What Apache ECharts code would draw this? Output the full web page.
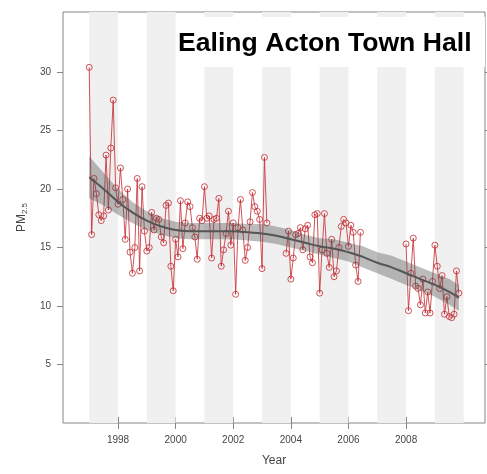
<!DOCTYPE html>
<html>
<head>
<meta charset="utf-8">
<title>Ealing Acton Town Hall PM2.5</title>
<script src="https://cdn.jsdelivr.net/npm/echarts@6/dist/echarts.min.js"></script>
<style>
  html, body { margin: 0; padding: 0; background: #fff; }
  #chart { width: 487px; height: 474px; }
</style>
</head>
<body>
<div id="chart"></div>
<script>
// Monthly mean PM2.5 (Jan..Dec); null = no data that month
const years = [1997, 1998, 1999, 2000, 2001, 2002, 2003, 2004, 2005, 2006, 2007, 2008, 2009];
const pm1997 = [30.4, 16.1, 20.9, 19.6, 17.8, 17.3, 17.7, 22.9, 18.2, 23.5, 27.6, 20.1];
const pm1998 = [18.7, 21.8, 19.1, 15.7, 20.0, 14.6, 12.8, 15.0, 20.9, 13.0, 20.2, 16.4];
const pm1999 = [14.7, 15.0, 18.0, 16.5, 17.5, 17.4, 15.9, 15.4, 18.6, 18.8, 13.4, 11.3];
const pm2000 = [15.7, 14.2, 19.0, 14.9, 17.1, 18.9, 18.5, 16.7, 15.9, 14.0, 17.5, 17.3];
const pm2001 = [20.2, 17.5, 17.7, 14.1, 17.4, 17.5, 19.2, 13.4, 14.8, 16.2, 18.1, 15.2];
const pm2002 = [17.1, 11.0, 16.7, 19.1, 16.5, 13.9, 15.0, 17.2, 19.7, 18.5, 18.1, 17.4];
const pm2003 = [13.2, 22.7, 17.1, null, null, null, null, null, null, null, 14.5, 16.4];
const pm2004 = [12.3, 14.1, 16.1, 16.2, 16.7, 14.8, 16.6, 16.9, 14.2, 13.7, 17.8, 17.9];
const pm2005 = [11.1, 14.8, 17.9, 14.5, 13.3, 15.7, 12.5, 13.0, 15.0, 16.8, 17.4, 17.1];
const pm2006 = [15.1, 16.9, 16.3, 13.5, 12.1, 16.3, null, null, null, null, null, null];
const pm2007 = [null, null, null, null, null, null, null, null, null, null, null, null];
const pm2008 = [15.3, 9.6, 12.8, 15.8, 11.7, 11.5, 10.1, 12.3, 9.4, 11.2, 9.4, 12.1];
const pm2009 = [15.2, 13.4, 11.5, 12.6, 9.3, 10.8, 9.1, 9.0, 9.3, 13.0, 11.1, null];
const yearRows = [pm1997, pm1998, pm1999, pm2000, pm2001, pm2002, pm2003,
                  pm2004, pm2005, pm2006, pm2007, pm2008, pm2009];

// Smooth trend with its confidence band
const fitYears = [1997.0, 1997.5, 1998.0, 1998.5, 1999.0, 1999.5, 2000.0, 2000.5, 2001.0,
                  2001.5, 2002.0, 2002.5, 2003.0, 2003.5, 2004.0, 2004.5, 2005.0, 2005.5,
                  2006.0, 2006.5, 2007.0, 2007.5, 2008.0, 2008.5, 2009.0, 2009.5, 2009.83];
const fitMid  = [21.0, 20.0, 18.9, 18.0, 17.3, 16.8, 16.5, 16.4, 16.4, 16.4, 16.4, 16.3, 16.2,
                 16.0, 15.7, 15.4, 15.1, 14.9, 14.6, 14.2, 13.7, 13.3, 12.8, 12.3, 11.8, 11.2, 10.7];
const fitLow  = [19.2, 18.6, 17.8, 17.1, 16.5, 16.1, 15.8, 15.7, 15.7, 15.7, 15.7, 15.6, 15.5,
                 15.3, 15.0, 14.7, 14.4, 14.1, 13.8, 13.3, 12.8, 12.3, 11.8, 11.3, 10.8, 10.1, 9.6];
const fitHigh = [22.8, 21.4, 20.0, 18.9, 18.1, 17.5, 17.2, 17.1, 17.1, 17.1, 17.1, 17.0, 17.0,
                 16.8, 16.5, 16.1, 15.8, 15.7, 15.4, 15.1, 14.6, 14.3, 13.8, 13.3, 12.8, 12.3, 11.8];

// Axis ticks and shaded years
const xTicks = [1998, 2000, 2002, 2004, 2006, 2008];
const yTicks = [5, 10, 15, 20, 25, 30];
const shadedYears = [1997, 1999, 2001, 2003, 2005, 2007, 2009];

const monthlyPoints = [];
years.forEach((yr, i) => {
  yearRows[i].forEach((v, m) => {
    monthlyPoints.push([yr + m / 12, v]);
  });
});

const gray = '#858585';
const labelColor = '#454545';
const font = '"Liberation Sans", Arial, sans-serif';
const red = 'rgba(195,42,48,0.9)';

const chart = echarts.init(document.getElementById('chart'), null, { renderer: 'canvas' });

const baseX = {
  type: 'value', min: 1996.09, max: 2010.74,
  splitLine: { show: false },
  axisLine: { show: false },
  axisTick: { show: true, length: 6, customValues: xTicks, lineStyle: { color: gray } }
};
const baseY = {
  type: 'value', min: 0, max: 35.13,
  splitLine: { show: false },
  axisLine: { show: false },
  axisTick: { show: true, length: 6, customValues: yTicks, lineStyle: { color: gray } }
};

// Confidence band drawn as one closed polygon (upper edge forward, lower edge back)
function renderBand(params, api) {
  const pts = [];
  for (let i = 0; i < fitYears.length; i++) pts.push(api.coord([fitYears[i], fitHigh[i]]));
  for (let i = fitYears.length - 1; i >= 0; i--) pts.push(api.coord([fitYears[i], fitLow[i]]));
  return {
    type: 'polygon',
    shape: { points: pts },
    style: { fill: 'rgba(80,80,80,0.38)', stroke: 'none' }
  };
}

chart.setOption({
  animation: false,
  textStyle: { fontFamily: font },
  grid: { left: 63, right: 2, top: 12, bottom: 51, show: true,
          borderColor: gray, borderWidth: 1, backgroundColor: 'transparent' },
  graphic: [
    { type: 'rect', z: 50, shape: { x: 177, y: 17, width: 308, height: 50 },
      style: { fill: '#ffffff' }, silent: true },
    { type: 'text', z: 51, x: 178, y: 44,
      style: { text: 'Ealing Acton Town Hall', font: 'bold 26.6px ' + font,
               fill: '#000', textAlign: 'left', textVerticalAlign: 'middle' } }
  ],
  xAxis: [
    Object.assign({}, baseX, {
      position: 'bottom',
      name: 'Year', nameLocation: 'middle', nameGap: 32,
      nameTextStyle: { color: labelColor, fontSize: 12, fontFamily: font },
      axisLabel: { show: true, customValues: xTicks, margin: 12, color: labelColor,
                   fontSize: 10, fontFamily: font, formatter: v => String(v) }
    }),
    Object.assign({}, baseX, { position: 'top', axisLabel: { show: false } })
  ],
  yAxis: [
    Object.assign({}, baseY, {
      position: 'left',
      name: 'PM{sub|2.5}', nameLocation: 'middle', nameGap: 33, nameRotate: 90,
      nameTextStyle: {
        color: labelColor, fontSize: 12, fontFamily: font,
        rich: { sub: { fontSize: 8, color: labelColor, fontFamily: font,
                       verticalAlign: 'bottom', padding: [6, 0, 0, 0] } }
      },
      axisLabel: { show: true, customValues: yTicks, margin: 12, color: labelColor,
                   fontSize: 10, fontFamily: font }
    }),
    Object.assign({}, baseY, { position: 'right', axisLabel: { show: false } })
  ],
  series: [
    {
      name: 'years', type: 'line', data: [], z: 1, silent: true,
      markArea: {
        silent: true,
        itemStyle: { color: '#f0f0f0' },
        data: shadedYears.map(y => [{ xAxis: y }, { xAxis: y + 1 }])
      }
    },
    {
      name: 'PM2.5', type: 'line', data: monthlyPoints, z: 2,
      connectNulls: false, showAllSymbol: true,
      symbol: 'circle', symbolSize: 6,
      lineStyle: { color: red, width: 0.9 },
      itemStyle: { color: 'rgba(255,255,255,0)', borderColor: red, borderWidth: 0.9 }
    },
    {
      name: 'ci', type: 'custom', z: 3, silent: true,
      data: [[fitYears[0], fitMid[0]]],
      renderItem: renderBand
    },
    {
      name: 'trend', type: 'line', z: 4, silent: true,
      data: fitYears.map((x, i) => [x, fitMid[i]]),
      smooth: true, symbol: 'none',
      lineStyle: { color: '#555555', width: 2 }
    }
  ]
});
</script>
</body>
</html>
